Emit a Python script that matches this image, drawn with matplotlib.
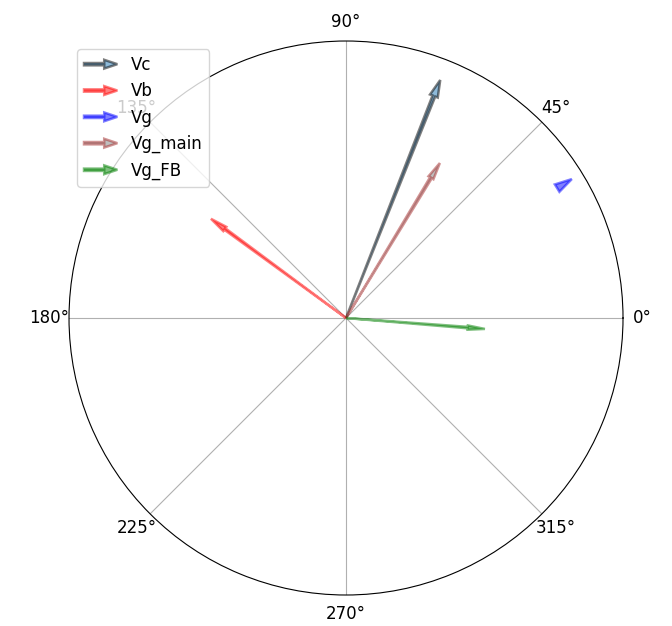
import numpy as np
import matplotlib
matplotlib.use("Agg")
from matplotlib import pyplot as plt
import matplotlib.patches as mpatches
from matplotlib.legend_handler import HandlerPatch

plt.rcParams['font.size'] = 12

# phasor magnitudes (per unit) and angles (deg)
names = ['Vc', 'Vb', 'Vg', 'Vg_main', 'Vg_FB']
magnitudes = [0.924, 0.605, 0.957, 0.654, 0.503]
angles_deg = [68.4, 143.7, 31.6, 58.8, -4.5]
edge_colors = ['black', 'red', 'blue', 'brown', 'green']
face_colors = ['tab:blue', 'red', 'blue', 'gray', 'green']

WIDTH = 0.012
HEAD_W = 0.035
HEAD_L = 0.062


def make_legend_arrow(legend, orig_handle, xdescent, ydescent, width, height, fontsize):
    return mpatches.FancyArrow(0, 0.5 * height, width, 0, width=0.2 * height,
                               length_includes_head=True, head_width=0.75 * height)


fig = plt.figure(figsize=(6.72, 6.26), dpi=100)
ax = fig.add_axes([0.1027, 0.0495, 0.8244, 0.885], projection='polar')

handles = []
for name, mag, ang, ec, fc in zip(names, magnitudes, angles_deg, edge_colors, face_colors):
    theta = np.deg2rad(ang)
    if name == 'Vg':
        # only the head of Vg ends up on the plot
        r0, dr = mag - HEAD_L, HEAD_L
    else:
        r0, dr = 0, mag
    arr = ax.arrow(theta, r0, 0, dr, width=WIDTH, head_width=HEAD_W,
                   head_length=HEAD_L, length_includes_head=True,
                   alpha=0.5, edgecolor=ec, facecolor=fc, lw=1.8, zorder=5, label=name)
    handles.append(arr)

ax.set_ylim(0, 1.0)
ax.set_yticks([])
ax.set_xticks(np.deg2rad(np.arange(0, 360, 45)))
ax.grid(True)

ax.legend(handles=handles, loc='upper left',
          handler_map={mpatches.FancyArrow: HandlerPatch(patch_func=make_legend_arrow)})

plt.savefig('out.png', dpi=100)
